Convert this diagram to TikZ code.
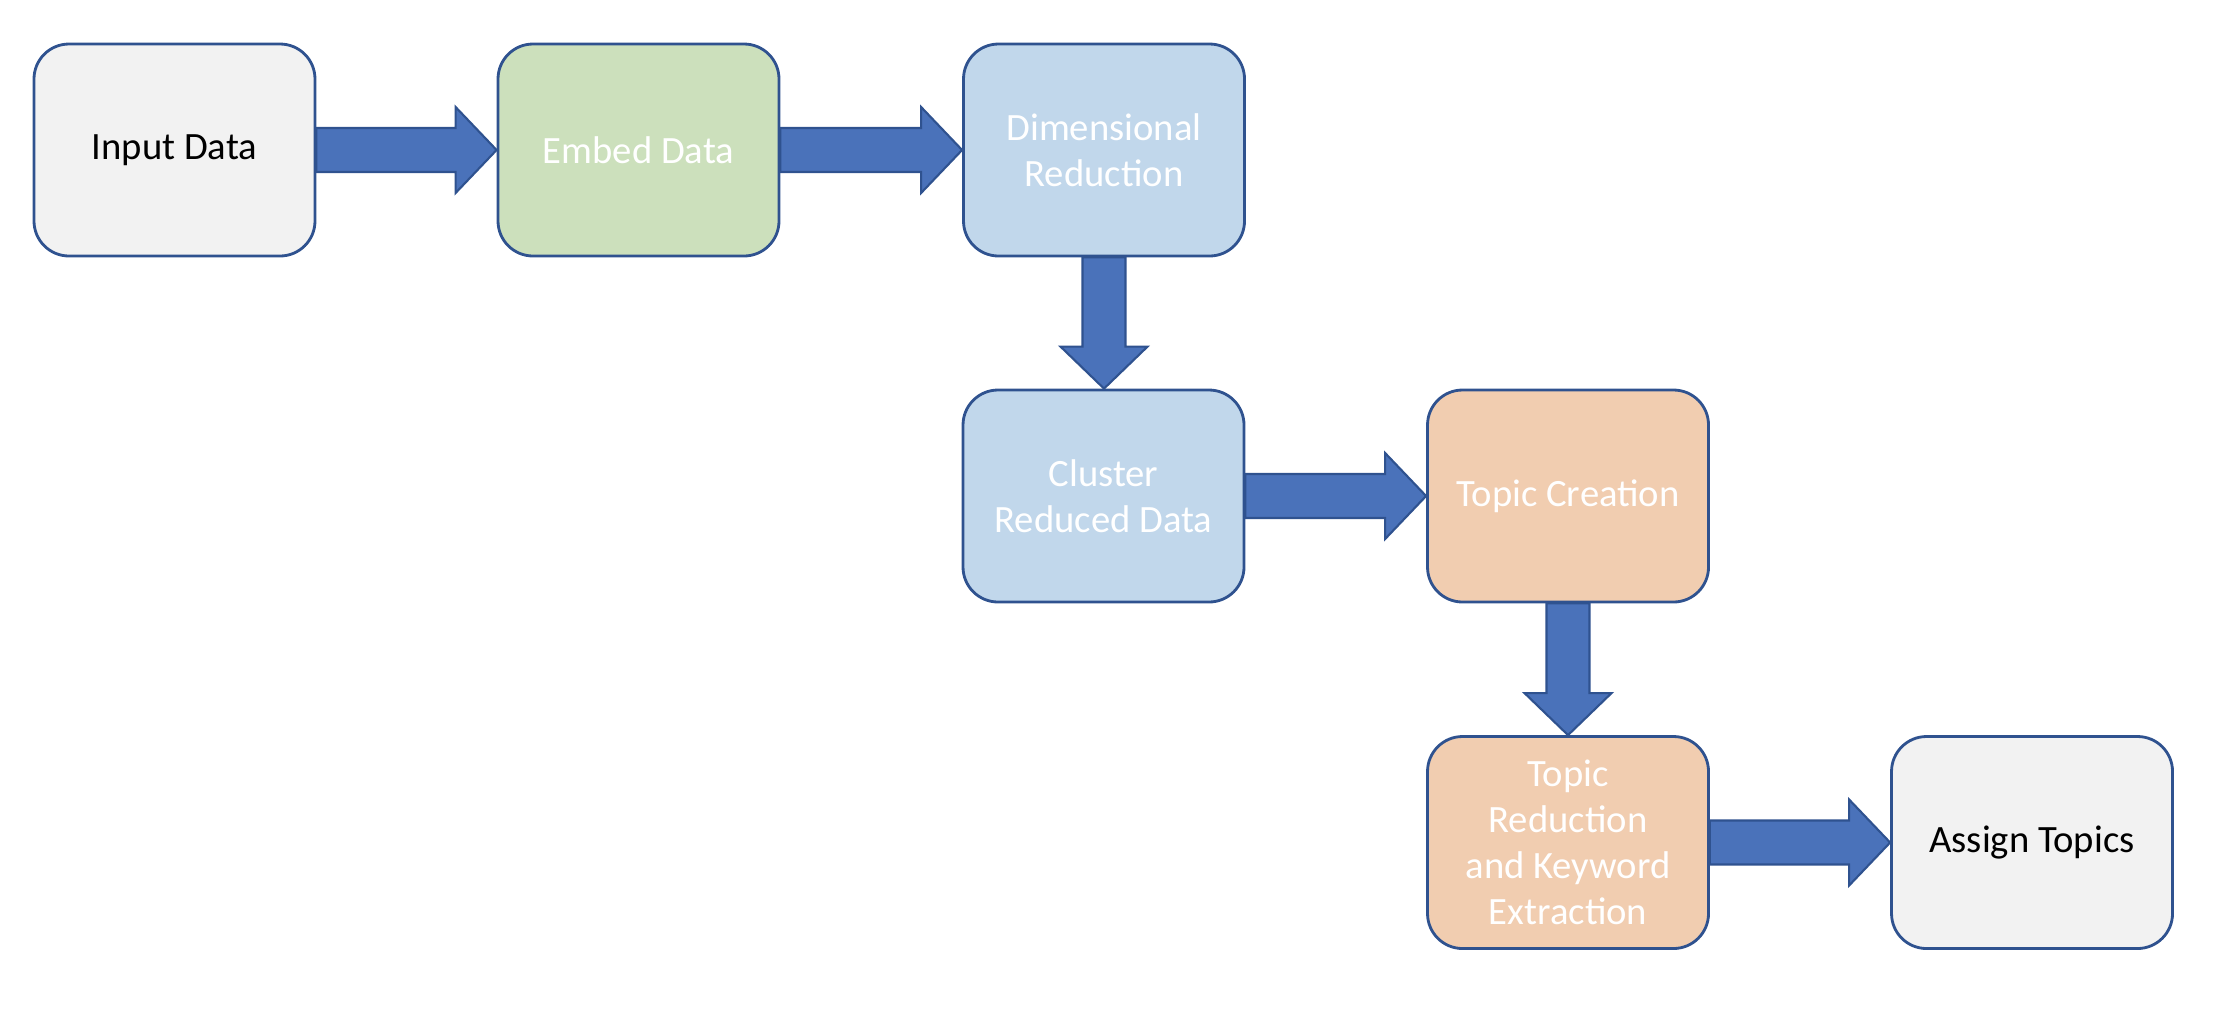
\documentclass[tikz,border=0pt]{standalone}
\usepackage{fontspec}
\setmainfont{Carlito}
\usetikzlibrary{calc}
\definecolor{edgeblue}{HTML}{2F528F}
\definecolor{arrowblue}{HTML}{4A72BA}
\definecolor{boxgray}{HTML}{F2F2F2}
\definecolor{boxgreen}{HTML}{CCE0BC}
\definecolor{boxblue}{HTML}{C1D7EB}
\definecolor{boxorange}{HTML}{F1CDB0}
\tikzset{
  stepbox/.style={draw=edgeblue, line width=0.8pt, rounded corners=0.35cm,
    minimum width=2.81cm, minimum height=2.12cm, align=center,
    font=\fontsize{11}{13.1}\selectfont, inner sep=2pt},
  graybox/.style={stepbox, fill=boxgray, text=black},
  greenbox/.style={stepbox, fill=boxgreen, text=white},
  bluebox/.style={stepbox, fill=boxblue, text=white},
  orangebox/.style={stepbox, fill=boxorange, text=white},
  blockarrow/.style={fill=arrowblue, draw=edgeblue, line width=0.6pt, line join=miter}
}
\newcommand{\harrow}[2]{%
  \path[blockarrow] let \p1=(#1.east), \p2=(#2.west) in
    (\x1,\y1+0.22cm) -- (\x2-0.41cm,\y1+0.22cm) -- (\x2-0.41cm,\y1+0.43cm) --
    (\x2,\y1) -- (\x2-0.41cm,\y1-0.43cm) -- (\x2-0.41cm,\y1-0.22cm) --
    (\x1,\y1-0.22cm) -- cycle;}
\newcommand{\varrow}[2]{%
  \path[blockarrow] let \p1=(#1.south), \p2=(#2.north) in
    (\x1-0.215cm,\y1) -- (\x1-0.215cm,\y2+0.42cm) -- (\x1-0.435cm,\y2+0.42cm) --
    (\x1,\y2) -- (\x1+0.435cm,\y2+0.42cm) -- (\x1+0.215cm,\y2+0.42cm) --
    (\x1+0.215cm,\y1) -- cycle;}
\begin{document}
\begin{tikzpicture}
\useasboundingbox (0,0) rectangle (22.18,-10.24);
\node[graybox]   (input)   at (1.745,-1.50) {Input Data};
\node[greenbox]  (embed)   at (6.385,-1.50) {Embed Data};
\node[bluebox]   (dim)     at (11.04,-1.50) {Dimensional\\Reduction};
\node[bluebox]   (cluster) at (11.035,-4.96) {Cluster\\Reduced Data};
\node[orangebox] (create)  at (15.68,-4.96) {Topic Creation};
\node[orangebox] (reduce)  at (15.68,-8.425) {Topic\\Reduction\\and Keyword\\Extraction};
\node[graybox]   (assign)  at (20.32,-8.425) {Assign Topics};
\harrow{input}{embed}
\harrow{embed}{dim}
\varrow{dim}{cluster}
\harrow{cluster}{create}
\varrow{create}{reduce}
\harrow{reduce}{assign}
\end{tikzpicture}
\end{document}
